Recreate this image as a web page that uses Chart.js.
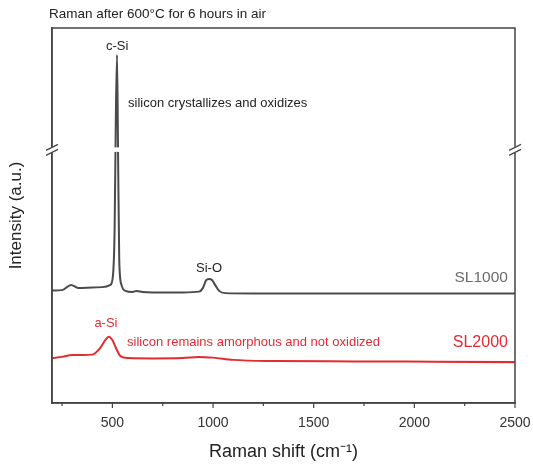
<!DOCTYPE html>
<html>
<head>
<meta charset="utf-8">
<script src="https://cdn.jsdelivr.net/npm/chart.js@4.4.1/dist/chart.umd.min.js"></script>
<style>
  html, body { margin: 0; padding: 0; background: #ffffff; }
  canvas { display: block; }
</style>
</head>
<body>
<canvas id="c" width="533" height="466"></canvas>
<script>
// ---- data ----
const shiftSL1000 = [200, 250, 295, 330, 400, 450, 490, 503, 511, 517, 523, 528, 534, 545, 565, 600, 620, 650, 700, 850, 930, 950, 965, 980, 995, 1010, 1030, 1060, 1200, 1600, 2000, 2500];
const intensitySL1000 = [30.0, 30.1, 31.5, 30.7, 30.8, 30.9, 31.5, 34.1, 46.1, 75.5, 92.8, 67.5, 38.1, 31.5, 29.9, 29.6, 29.9, 29.6, 29.5, 29.5, 29.7, 30.7, 32.7, 33.1, 32.8, 31.5, 29.9, 29.3, 29.2, 29.2, 29.2, 29.2];

const shiftSL2000 = [200, 250, 300, 350, 400, 440, 465, 482, 500, 520, 540, 580, 700, 850, 930, 1000, 1100, 1300, 1700, 2100, 2500];
const intensitySL2000 = [12.0, 12.3, 12.8, 12.8, 12.9, 14.7, 16.8, 17.7, 16.8, 14.4, 12.5, 12.0, 11.9, 12.0, 12.3, 12.1, 11.5, 11.2, 11.1, 11.0, 10.9];

const xTickValues = [500, 1000, 1500, 2000, 2500];
const xMinorTickValues = [250, 750, 1250, 1750, 2250];

const seriesNames = ['SL1000', 'SL2000'];
const titleText = 'Raman after 600\u00B0C for 6 hours in air';
const xTitle = 'Raman shift (cm\u207B\u00B9)';
const yTitle = 'Intensity (a.u.)';

// annotations: [text, x (cm-1), y (a.u.), align, color, size]
const labels = [
  ['c-Si', 524, 95.2, 'center', '#222222', 13],
  ['silicon crystallizes and oxidizes', 578, 80.0, 'left', '#222222', 13],
  ['Si-O', 980, 35.9, 'center', '#222222', 13],
  ['SL1000', 2465, 33.5, 'right', '#6b6b6b', 15.5],
  ['a-Si', 468, 21.1, 'center', '#e32b32', 13],
  ['silicon remains amorphous and not oxidized', 573, 16.1, 'left', '#e32b32', 13],
  ['SL2000', 2465, 16.0, 'right', '#e32b32', 16]
];
const breakValue = 67.5; // where the y axis is broken (a.u.)

const FONT = "'Liberation Sans', Arial, sans-serif";
const AXIS = '#444444';
const BLACK = '#4a4a4a';
const RED = '#e32b32';

const toPts = (xs, ys) => xs.map((x, i) => ({x: x, y: ys[i]}));

const decor = {
  id: 'decor',
  afterDraw(chart) {
    const ctx = chart.ctx;
    const a = chart.chartArea;
    const xs = chart.scales.x, ys = chart.scales.y;
    ctx.save();
    // frame
    ctx.strokeStyle = AXIS;
    ctx.lineWidth = 1.5;
    ctx.strokeRect(a.left, a.top, a.right - a.left, a.bottom - a.top);
    // ticks (outside, downwards)
    ctx.lineWidth = 1.2;
    ctx.beginPath();
    xTickValues.forEach(v => { const p = xs.getPixelForValue(v); ctx.moveTo(p, a.bottom); ctx.lineTo(p, a.bottom + 5); });
    xMinorTickValues.forEach(v => { const p = xs.getPixelForValue(v); ctx.moveTo(p, a.bottom); ctx.lineTo(p, a.bottom + 3); });
    ctx.stroke();
    // axis break
    const yb = ys.getPixelForValue(breakValue);
    ctx.fillStyle = '#ffffff';
    const peakX = xs.getPixelForValue(524);
    ctx.fillRect(peakX - 7, yb - 2.5, 14, 4.5);
    [a.left, a.right].forEach(x0 => {
      ctx.fillRect(x0 - 3, yb - 3, 6, 6);
      ctx.strokeStyle = AXIS;
      ctx.lineWidth = 1.2;
      ctx.beginPath();
      ctx.moveTo(x0 - 6, yb + 0.5); ctx.lineTo(x0 + 6, yb - 5.5);
      ctx.moveTo(x0 - 6, yb + 5.5); ctx.lineTo(x0 + 6, yb - 0.5);
      ctx.stroke();
    });
    // title
    ctx.fillStyle = '#222222';
    ctx.font = '13.5px ' + FONT;
    ctx.textAlign = 'left';
    ctx.textBaseline = 'middle';
    ctx.fillText(titleText, a.left - 3, 14);
    // annotations
    labels.forEach(([t, x, y, al, col, sz]) => {
      ctx.fillStyle = col;
      ctx.font = sz + 'px ' + FONT;
      ctx.textAlign = al;
      ctx.textBaseline = 'middle';
      ctx.fillText(t, xs.getPixelForValue(x), ys.getPixelForValue(y));
    });
    ctx.restore();
  }
};

new Chart(document.getElementById('c'), {
  type: 'line',
  data: {
    datasets: [
      { label: seriesNames[0], data: toPts(shiftSL1000, intensitySL1000), borderColor: BLACK, borderWidth: 2, pointRadius: 0, cubicInterpolationMode: 'monotone', fill: false },
      { label: seriesNames[1], data: toPts(shiftSL2000, intensitySL2000), borderColor: RED, borderWidth: 2, pointRadius: 0, cubicInterpolationMode: 'monotone', fill: false }
    ]
  },
  options: {
    responsive: false,
    animation: false,
    devicePixelRatio: 1,
    layout: { padding: { top: 28, right: 18, left: 0, bottom: 0 } },
    plugins: { legend: { display: false }, tooltip: { enabled: false }, title: { display: false } },
    scales: {
      x: {
        type: 'linear', min: 200, max: 2500,
        afterBuildTicks: s => { s.ticks = xTickValues.map(v => ({value: v})); },
        afterFit: s => { s.height = 63; s.paddingRight = 0; s.paddingLeft = 0; },
        grid: { display: false },
        border: { display: true, color: AXIS, width: 1.5 },
        ticks: { color: '#333333', font: { family: FONT, size: 14 }, padding: 4, maxRotation: 0, callback: v => String(v) },
        title: { display: true, text: xTitle, color: '#222222', font: { family: FONT, size: 18 }, padding: { top: 0, bottom: 3 } }
      },
      y: {
        min: 0, max: 100,
        afterFit: s => { s.width = 52; s.paddingTop = 0; s.paddingBottom = 0; },
        grid: { display: false },
        border: { display: true, color: AXIS, width: 1.5 },
        ticks: { display: false },
        title: { display: true, text: yTitle, color: '#222222', font: { family: FONT, size: 17 }, padding: { top: 6, bottom: 0 } }
      }
    }
  },
  plugins: [decor]
});
</script>
</body>
</html>
